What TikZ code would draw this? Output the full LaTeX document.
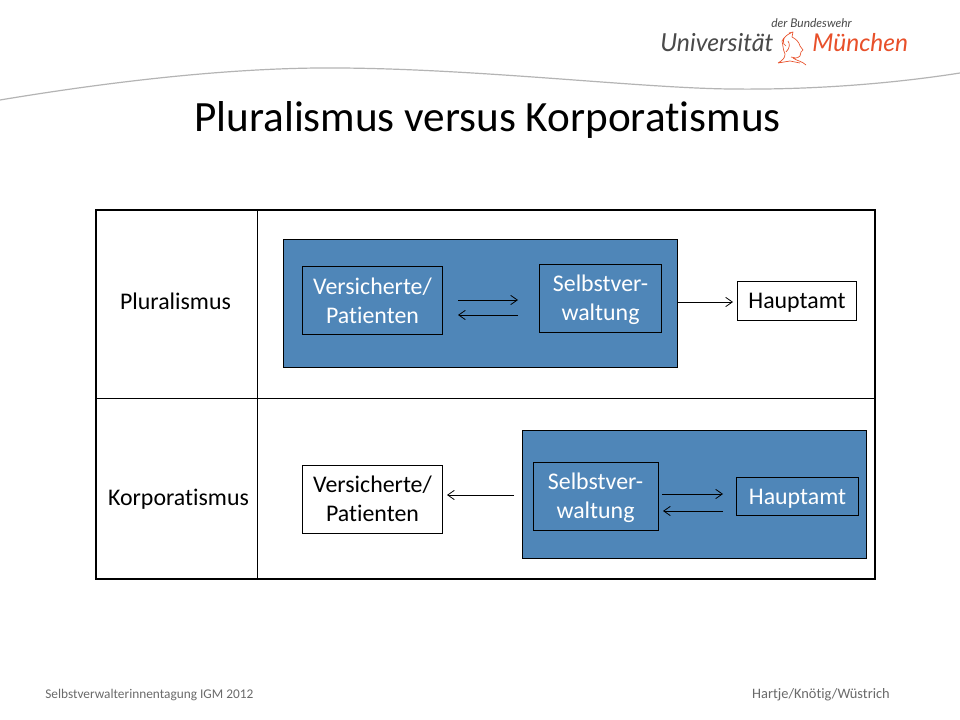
\documentclass[tikz,border=0pt]{standalone}
\usepackage{fontspec}
\setmainfont{Carlito}[Ligatures=NoCommon]
\newfontfamily\logofont{Lato}
\definecolor{boxblue}{HTML}{4F86B8}
\definecolor{logogrey}{HTML}{4A4A4A}
\definecolor{logored}{HTML}{E8502A}
\definecolor{swoosh}{HTML}{B4B4B4}
\definecolor{footgrey}{HTML}{6A6A6A}
\newcommand{\lowered}[2]{\raisebox{#1}[\height][\depth]{#2}}
\tikzset{
  x=0.75pt,y=-0.75pt,
  panel/.style={draw=black,fill=boxblue,line width=0.75pt},
  darkbox/.style={draw=black,fill=boxblue,line width=0.75pt,text=white,align=center,font=\fontsize{17.9}{21.8}\selectfont,inner sep=0pt},
  lightbox/.style={draw=black,fill=white,line width=0.75pt,text=black,align=center,font=\fontsize{17.9}{21.8}\selectfont,inner sep=0pt},
  rowlabel/.style={font=\fontsize{17.9}{20}\selectfont,inner sep=0pt},
  conn/.style={-{Straight Barb[length=5pt,width=7pt]},line width=0.6pt},
  foot/.style={text=footgrey,inner sep=0pt},
}
\usetikzlibrary{arrows.meta}
\begin{document}
\begin{tikzpicture}
\useasboundingbox (0,0) rectangle (960,720);
\fill[white] (0,0) rectangle (960,720);
% swoosh
\draw[swoosh,line width=0.9pt] (0,100) .. controls (120,80) and (240,67) .. (340,68)
  .. controls (480,69) and (640,88) .. (730,89) .. controls (810,90) and (890,84) .. (960,73);
% logo
\node[inner sep=0pt,anchor=base west,text=logogrey,font=\logofont\itshape\fontsize{9}{10}\selectfont] (lg1) at (771,28) {der Bundeswehr};
\node[inner sep=0pt,anchor=base west,text=logogrey,font=\logofont\itshape\fontsize{18.6}{20}\selectfont] (lg2) at (660,52) {Universität};
\node[inner sep=0pt,anchor=base west,text=logored,font=\logofont\itshape\fontsize{18.4}{20}\selectfont] (lg3) at (812,52) {München};
\draw[logored,line width=0.5pt,line join=round]
  (778,63) .. controls (783,60) and (785,58) .. (785,54) .. controls (783,50) and (783,45) .. (782,41)
  .. controls (784,37) and (788,34) .. (791,33) (789,33) -- (793,32) -- (792,37)
  .. controls (796,39) and (799,42) .. (800,46) -- (803,50) -- (801,52) -- (800,56) .. controls (797,59) and (794,58) .. (791,57)
  (793,58) .. controls (797,61) and (802,61) .. (806,65)
  (778,63) -- (790,61) -- (800,63)
  (786,46) .. controls (782,44) and (783,38) .. (786,36)
  (786,52) .. controls (790,48) and (790,44) .. (788,41);
% title
\node[inner sep=0pt,font=\fontsize{32.4}{36}\selectfont,text=black] (title) at (487.5,120) {Pluralismus versus Korporatismus};
% table
\draw[black,line width=1.6pt] (96,210) rectangle (875,579);
\coordinate (vt) at (257,210); \coordinate (vb) at (257,579);
\coordinate (hl) at (96,398); \coordinate (hr) at (875,398);
\draw[black,line width=0.7pt] (vt) -- (vb);
\draw[black,line width=0.7pt] (hl) -- (hr);
\node[rowlabel] (lp) at (175.5,301) {Pluralismus};
\node[rowlabel] (lk) at (178.5,499) {Korporatismus};
% panels
\draw[panel] (283.5,239.5) rectangle (677.5,367.5);
\draw[panel] (522.5,430.5) rectangle (866.5,558.5);
% top row
\node[darkbox,minimum width=140pt*0.75,minimum height=68pt*0.75] (vp1) at (372.5,300.5) {Versicherte/\\Patienten};
\node[darkbox,minimum width=122pt*0.75,minimum height=67pt*0.75] (sv1) at (600.5,298.5) {\lowered{-0.9pt}{Selbstver-}\\\lowered{-0.9pt}{waltung}};
\node[lightbox,minimum width=119pt*0.75,minimum height=39pt*0.75] (ha1) at (797,301) {\lowered{-1.5pt}{Hauptamt}};
% bottom row
\node[lightbox,minimum width=140pt*0.75,minimum height=68pt*0.75] (vp2) at (372.5,499.5) {\lowered{0.7pt}{Versicherte/}\\\lowered{0.7pt}{Patienten}};
\node[darkbox,minimum width=125pt*0.75,minimum height=68pt*0.75] (sv2) at (595.5,496.5) {\lowered{-0.9pt}{Selbstver-}\\\lowered{-0.9pt}{waltung}};
\node[darkbox,minimum width=122pt*0.75,minimum height=38pt*0.75] (ha2) at (797.5,496.5) {\lowered{-1.5pt}{Hauptamt}};
% connectors: free ends are named coordinates
\coordinate (a1s) at (458,300); \coordinate (a1e) at (518,300);
\coordinate (a2s) at (518,315); \coordinate (a2e) at (458,315);
\coordinate (a3s) at (678,302); \coordinate (a3e) at (733,302);
\coordinate (a4s) at (514,495); \coordinate (a4e) at (447,495);
\coordinate (a5s) at (662,494); \coordinate (a5e) at (723,494);
\coordinate (a6s) at (723,511); \coordinate (a6e) at (663,511);
\draw[conn] (a1s) -- (a1e);
\draw[conn] (a2s) -- (a2e);
\draw[conn] (a3s) -- (a3e);
\draw[conn] (a4s) -- (a4e);
\draw[conn] (a5s) -- (a5e);
\draw[conn] (a6s) -- (a6e);
% footer
\node[foot,anchor=base west,font=\fontsize{10}{11}\selectfont] (f1) at (45,698) {Selbstverwalterinnentagung IGM 2012};
\node[foot,anchor=base east,font=\fontsize{10.8}{11}\selectfont] (f2) at (890,698) {Hartje/Knötig/Wüstrich};
\end{tikzpicture}
\end{document}
